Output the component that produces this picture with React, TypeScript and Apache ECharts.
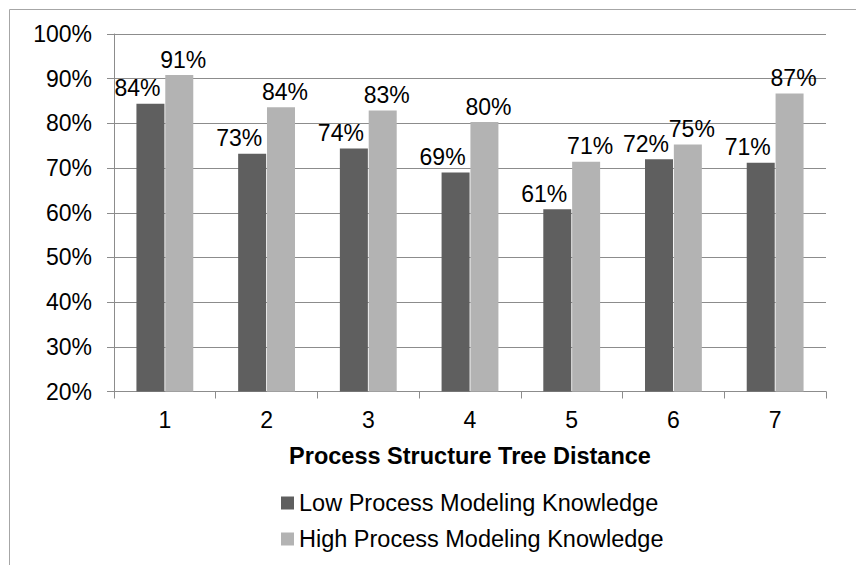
import React, { useEffect, useRef } from "react";
import * as echarts from "echarts";

const categories = ["1", "2", "3", "4", "5", "6", "7"];
const lowKnowledge = [84.4, 73.2, 74.4, 69.0, 60.8, 72.0, 71.2];
const highKnowledge = [90.8, 83.6, 82.9, 80.3, 71.4, 75.3, 86.7];
const seriesNames = ["Low Process Modeling Knowledge", "High Process Modeling Knowledge"];
const xAxisTitle = "Process Structure Tree Distance";

const FONT = "Liberation Sans, Arial, sans-serif";

export default function App() {
  const ref = useRef<HTMLDivElement>(null);
  useEffect(() => {
    if (!ref.current) return;
    const chart = echarts.init(ref.current, null, { renderer: "svg" });
    const labelBase = {
      show: true,
      position: "top" as const,
      distance: 4,
      fontSize: 23,
      fontFamily: FONT,
      color: "#000",
      formatter: (p: any) => Math.round(p.value) + "%",
    };
    chart.setOption({
      animation: false,
      backgroundColor: "#fff",
      graphic: [
        {
          type: "rect",
          shape: { x: 9.5, y: 9.5, width: 900, height: 700 },
          style: { fill: "none", stroke: "#a6a6a6", lineWidth: 1 },
          silent: true,
        },
      ],
      grid: { left: 114, top: 34, right: 30, bottom: 173.5, containLabel: false },
      legend: {
        orient: "vertical",
        left: 276,
        top: 486,
        itemWidth: 13,
        itemHeight: 13,
        itemGap: 12,
        icon: "rect",
        textStyle: { fontSize: 23.5, fontFamily: FONT, color: "#000", lineHeight: 24 },
        data: seriesNames,
      },
      xAxis: {
        type: "category",
        data: categories,
        name: xAxisTitle,
        nameLocation: "middle",
        nameGap: 52,
        nameTextStyle: { fontSize: 23.5, fontWeight: "bold", fontFamily: FONT, color: "#000" },
        axisLine: { lineStyle: { color: "#8c8c8c", width: 1 } },
        axisTick: { show: true, length: 7, lineStyle: { color: "#8c8c8c" } },
        axisLabel: { fontSize: 23, fontFamily: FONT, color: "#000", margin: 17 },
      },
      yAxis: {
        type: "value",
        min: 20,
        max: 100,
        interval: 10,
        axisLine: { show: true, lineStyle: { color: "#8c8c8c", width: 1 } },
        axisTick: { show: true, length: 7, lineStyle: { color: "#8c8c8c" } },
        axisLabel: { fontSize: 23, fontFamily: FONT, color: "#000", margin: 22, formatter: "{value}%" },
        splitLine: { show: true, lineStyle: { color: "#8c8c8c", width: 1 } },
      },
      series: [
        {
          name: seriesNames[0],
          type: "bar",
          data: lowKnowledge,
          itemStyle: { color: "#5f5f5f" },
          barWidth: 28,
          barGap: "3%",
          label: { ...labelBase, offset: [-13, 0] },
        },
        {
          name: seriesNames[1],
          type: "bar",
          data: highKnowledge,
          itemStyle: { color: "#b3b3b3" },
          barWidth: 28,
          label: { ...labelBase, offset: [4, 0] },
        },
      ],
    });
    return () => chart.dispose();
  }, []);
  return (
    <div
      ref={ref}
      style={{ position: "absolute", left: 0, top: 0, width: 856, height: 565 }}
    />
  );
}
